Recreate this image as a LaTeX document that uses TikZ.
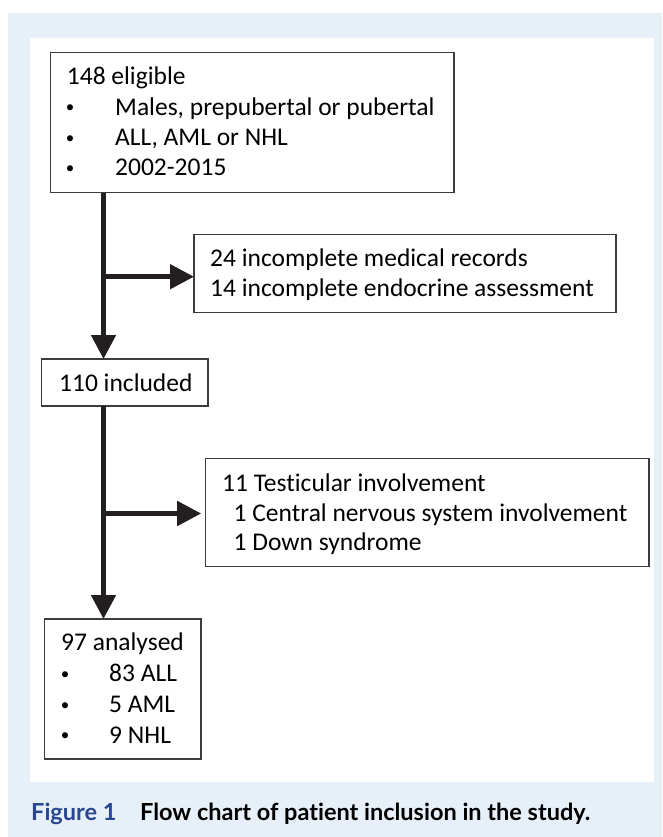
\documentclass[tikz,border=0pt]{standalone}
\usepackage{fontspec}
\setmainfont{Carlito}[Ligatures=NoCommon]
\newfontfamily\capfont{Lato}[Ligatures=NoCommon]
\usetikzlibrary{arrows.meta}
\definecolor{bgblue}{RGB}{231,239,249}
\definecolor{figblue}{RGB}{40,70,145}
\definecolor{boxline}{RGB}{60,60,60}
\definecolor{arrowcol}{RGB}{35,31,32}
\begin{document}
\begin{tikzpicture}[x=1pt,y=-1pt,
  flowbox/.style={draw=boxline, line width=1.1pt, fill=white, inner sep=0pt, outer sep=0pt, anchor=north west},
  txt/.style={anchor=base west, inner sep=0pt, font=\fontsize{25.5}{30}\selectfont},
  bul/.style={anchor=base, inner sep=0pt, yshift=2.5pt, font=\fontsize{17}{20}\selectfont},
  captxt/.style={anchor=base west, inner sep=0pt, font=\capfont\bfseries\fontsize{23.5}{28}\selectfont},
  flowarrow/.style={draw=arrowcol, line width=4.8pt, -{Triangle[width=24pt,length=24pt]}}
]
\useasboundingbox (0,0) rectangle (662,837);
\fill[bgblue] (8.3,12.7) rectangle (662,837);
\fill[white] (29.6,38.5) rectangle (653.5,781.7);

% boxes
\node[flowbox, minimum width=403.3pt, minimum height=140.4pt] (b1) at (50.7,52.3) {};
\node[flowbox, minimum width=422pt, minimum height=78.4pt] (b2) at (194,234.3) {};
\node[flowbox, minimum width=166.6pt, minimum height=47pt] (b3) at (41.4,359) {};
\node[flowbox, minimum width=443.3pt, minimum height=108.4pt] (b4) at (205.7,458.3) {};
\node[flowbox, minimum width=156.7pt, minimum height=140pt] (b5) at (44.3,619) {};

% box 1 text
\node[txt] (t1a) at (66.7,85) {148 eligible};
\node[bul] (u1b) at (70,115.5) {•};
\node[txt] (t1b) at (115,115.5) {Males, prepubertal or pubertal};
\node[bul] (u1c) at (70,145.7) {•};
\node[txt] (t1c) at (115,145.7) {ALL, AML or NHL};
\node[bul] (u1d) at (70,175.7) {•};
\node[txt] (t1d) at (115,175.7) {2002-2015};

% box 2 text
\node[txt] (t2a) at (210,266.7) {24 incomplete medical records};
\node[txt] (t2b) at (210,296.7) {14 incomplete endocrine assessment};

% box 3 text
\node[txt] (t3a) at (59,391.7) {110 included};

% box 4 text
\node[txt] (t4a) at (222,491.7) {11 Testicular involvement};
\node[txt] (t4b) at (233.5,521.7) {1 Central nervous system involvement};
\node[txt] (t4c) at (233.5,550.7) {1 Down syndrome};

% box 5 text
\node[txt] (t5a) at (61,650.7) {97 analysed};
\node[bul] (u5b) at (65,681.7) {•};
\node[txt] (t5b) at (109,681.7) {83 ALL};
\node[bul] (u5c) at (65,712.7) {•};
\node[txt] (t5c) at (109,712.7) {5 AML};
\node[bul] (u5d) at (65,743.3) {•};
\node[txt] (t5d) at (109,743.3) {9 NHL};

% connectors
\coordinate (v1) at (103.5,0);
\coordinate (h1) at (0,276.7);
\coordinate (h2) at (0,513.5);
\draw[flowarrow] (b1.south -| v1) -- (b3.north -| v1);
\draw[flowarrow] (h1 -| v1) -- (h1 -| b2.west);
\draw[flowarrow] (b3.south -| v1) -- (b5.north -| v1);
\coordinate (g2) at ([xshift=-4.5pt]b4.west);
\draw[flowarrow] (h2 -| v1) -- (h2 -| g2);

% caption
\node[captxt, text=figblue] (capa) at (31,820) {Figure 1};
\node[captxt] (capb) at (140,820) {Flow chart of patient inclusion in the study.};
\end{tikzpicture}
\end{document}
